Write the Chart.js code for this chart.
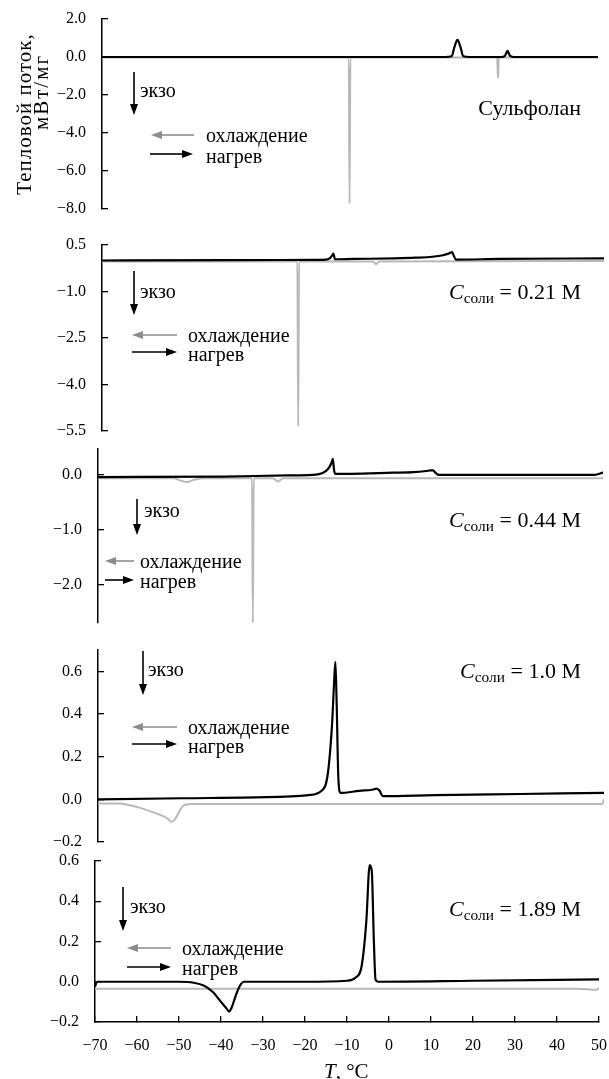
<!DOCTYPE html>
<html>
<head>
<meta charset="utf-8">
<script src="https://cdn.jsdelivr.net/npm/chart.js@4.4.0/dist/chart.umd.min.js"></script>
<style>
body { margin: 0; background: #fff; }
#fig { position: relative; width: 609px; height: 1079px; overflow: hidden; font-family: "Liberation Serif", "Times New Roman", serif; color: #000; }
#fig canvas { position: absolute; left: 0; }
.t { position: absolute; white-space: nowrap; line-height: 1; transform: translateY(-50%); font-size: 20px; }
.r { text-align: right; }
.c sub { font-size: 70%; vertical-align: baseline; position: relative; top: 0.28em; }
.yt { position: absolute; white-space: nowrap; line-height: 1; font-size: 21px; transform: translate(-50%, -50%) rotate(-90deg); }
svg { position: absolute; left: 0; top: 0; }
</style>
</head>
<body>
<div id="fig">
  <svg id="arrows" width="609" height="1079"></svg>
</div>
<script>
// x axis (temperature, °C)
const xTicks = [-70, -60, -50, -40, -30, -20, -10, 0, 10, 20, 30, 40, 50];

// Сульфолан
const ticks1 = [2, 0, -2, -4, -6, -8];
const heatT1 = [-70, 13, 14.6, 15.3, 16.0, 16.7, 17.4, 19, 26.6, 27.5, 28.1, 28.7, 29.5, 50];
const heatY1 = [0, 0, 0.04, 0.55, 0.9, 0.55, 0.04, 0, 0, 0.06, 0.32, 0.06, 0, 0];
const coolT1 = [-70, -10.3, -10.1, -9.9, 25.6, 25.8, 26.0, 50];
const coolY1 = [-0.03, -0.03, -7.7, -0.03, -0.03, -1.1, -0.03, -0.03];

// C = 0.21 M
const ticks2 = [0.5, -1, -2.5, -4, -5.5];
const heatT2 = [-70, -40, -20, -16.5, -15.5, -15.0, -14.7, -14.3, -10, 0, 5, 9, 11.5, 13.0, 13.7, 14.1, 14.6, 25, 50];
const heatY2 = [0.0, 0.01, 0.02, 0.03, 0.08, 0.16, 0.22, 0.04, 0.05, 0.07, 0.09, 0.12, 0.17, 0.23, 0.27, 0.15, 0.03, 0.05, 0.07];
const coolT2 = [-70, -23.3, -23.1, -22.9, -5.2, -4.5, -3.8, 50];
const coolY2 = [-0.03, -0.03, -5.35, -0.03, -0.03, -0.12, -0.03, -0.02];

// C = 0.44 M
const ticks3 = [0, -1, -2];
const heatT3 = [-70, -40, -25, -19, -16.5, -15.2, -14.5, -14.2, -13.9, -13.5, -10, 0, 5, 8, 9, 9.6, 10.3, 11, 30, 48, 50];
const heatY3 = [-0.04, -0.03, -0.01, 0.0, 0.04, 0.12, 0.22, 0.29, 0.08, 0.02, 0.02, 0.04, 0.05, 0.07, 0.08, 0.08, 0.03, 0.0, 0.0, 0.0, 0.04];
const coolT3 = [-70, -52, -50.5, -48.9, -47.2, -45, -33.4, -33.2, -33.0, -28.5, -27.2, -26.0, 50];
const coolY3 = [-0.06, -0.06, -0.10, -0.13, -0.09, -0.06, -0.06, -2.69, -0.06, -0.06, -0.12, -0.06, -0.06];

// C = 1.0 M
const ticks4 = [0.6, 0.4, 0.2, 0, -0.2];
const heatT4 = [-70, -50, -30, -20, -17, -15.5, -14.5, -14.0, -13.7, -13.4, -13.0, -12.5, -8, -5, -3.9, -3.2, -2.5, 10, 30, 50];
const heatY4 = [0.0, 0.005, 0.01, 0.02, 0.04, 0.12, 0.35, 0.55, 0.645, 0.45, 0.1, 0.03, 0.04, 0.045, 0.05, 0.04, 0.015, 0.02, 0.025, 0.03];
const coolT4 = [-70, -65, -63, -60, -57, -55, -53.5, -52.7, -51.8, -50.8, -49.8, -48, 49.6, 50];
const coolY4 = [-0.02, -0.02, -0.025, -0.04, -0.06, -0.075, -0.09, -0.105, -0.095, -0.06, -0.03, -0.022, -0.022, 0.0];

// C = 1.89 M
const ticks5 = [0.6, 0.4, 0.2, 0, -0.2];
const heatT5 = [-70, -69.5, -60, -50, -46.5, -44, -42, -40, -38.6, -38.1, -37.5, -36.5, -35.5, -34.5, -20, -10, -8, -6.5, -5.4, -4.6, -4.1, -3.6, -3.2, -2.5, 20, 50];
const heatY5 = [-0.025, 0.0, 0.0, 0.0, -0.005, -0.02, -0.05, -0.1, -0.135, -0.148, -0.13, -0.07, -0.02, 0.0, 0.0, 0.005, 0.02, 0.08, 0.3, 0.58, 0.55, 0.2, 0.01, 0.0, 0.005, 0.012];
const coolT5 = [-70, -50, 0, 45, 49.5, 50];
const coolY5 = [-0.035, -0.035, -0.035, -0.035, -0.04, -0.03];

const fig = document.getElementById("fig");
const FONT = "'Liberation Serif', 'Times New Roman', serif";
const fmtY = v => (v < 0 ? "\u2212" : "") + Math.abs(v).toFixed(1);
const fmtX = v => (v < 0 ? "\u2212" : "") + Math.abs(v);
const toXY = (xs, ys) => xs.map((x, i) => ({ x: x, y: ys[i] }));

// pixel frame of every panel (axis line position, top/bottom of the y axis)
const panels = [
    { top: 19, bottom: 209, left: 102, right: 598, min: -8, max: 2, ticks: ticks1, heat: [heatT1, heatY1], cool: [coolT1, coolY1] },
    { top: 245, bottom: 431, left: 102, right: 604, min: -5.5, max: 0.5, ticks: ticks2, heat: [heatT2, heatY2], cool: [coolT2, coolY2] },
    { top: 449, bottom: 623, left: 98, right: 603, min: -2.69, max: 0.47, ticks: ticks3, heat: [heatT3, heatY3], cool: [coolT3, coolY3] },
    { top: 650, bottom: 842, left: 98, right: 604, min: -0.2, max: 0.7, ticks: ticks4, heat: [heatT4, heatY4], cool: [coolT4, coolY4] },
    { top: 861, bottom: 1022, left: 95, right: 599, min: -0.2, max: 0.6, ticks: ticks5, heat: [heatT5, heatY5], cool: [coolT5, coolY5] }
];

panels.forEach((p, i) => {
    const last = i === panels.length - 1;
    const pad = 36;       // room for the tick label padding Chart.js reserves
    const padR = 36;
    const xAxisH = 40;
    const canvas = document.createElement("canvas");
    canvas.width = p.right + padR;
    canvas.height = (p.bottom - p.top) + pad + (last ? xAxisH : pad);
    canvas.style.top = (p.top - pad) + "px";
    fig.insertBefore(canvas, fig.firstChild);

    new Chart(canvas, {
        type: "line",
        data: {
            datasets: [
                { data: toXY(p.heat[0], p.heat[1]), borderColor: "#000", borderWidth: 2.2, pointRadius: 0, cubicInterpolationMode: "monotone" },
                { data: toXY(p.cool[0], p.cool[1]), borderColor: "#b8b8b8", borderWidth: 2, pointRadius: 0, cubicInterpolationMode: "monotone" }
            ]
        },
        options: {
            responsive: false,
            animation: false,
            layout: { padding: { top: pad, bottom: last ? 0 : pad, left: 0, right: padR } },
            plugins: { legend: { display: false }, tooltip: { enabled: false } },
            scales: {
                x: {
                    type: "linear", min: -70, max: 50, display: last,
                    afterBuildTicks: s => { s.ticks = xTicks.map(v => ({ value: v })); },
                    afterFit: s => { if (last) s.height = xAxisH; },
                    ticks: { font: { family: FONT, size: 16 }, color: "#000", padding: 20, maxRotation: 0, callback: fmtX },
                    grid: { drawOnChartArea: false, tickLength: -6, color: "#000", lineWidth: 1.3 },
                    border: { color: "#000", width: 1.5 }
                },
                y: {
                    type: "linear", min: p.min, max: p.max,
                    afterBuildTicks: s => { s.ticks = p.ticks.map(v => ({ value: v })); },
                    afterFit: s => { s.width = p.left; },
                    ticks: { font: { family: FONT, size: 16 }, color: "#000", padding: 22, callback: fmtY },
                    grid: { drawOnChartArea: false, tickLength: -6, color: "#000", lineWidth: 1.3 },
                    border: { color: "#000", width: 1.5 }
                }
            }
        }
    });
});

// labels inside the panels
const texts = [
    { x: 140, y: 90, html: "экзо" },
    { x: 206, y: 135, html: "охлаждение" },
    { x: 206, y: 156, html: "нагрев" },
    { right: 28, y: 108, html: "Сульфолан", size: 22 },

    { x: 140, y: 291, html: "экзо" },
    { x: 188, y: 335, html: "охлаждение" },
    { x: 188, y: 354, html: "нагрев" },
    { right: 28, y: 292, html: "<i>C</i><sub>соли</sub> = 0.21 M", size: 22 },

    { x: 144, y: 510, html: "экзо" },
    { x: 140, y: 561, html: "охлаждение" },
    { x: 140, y: 581, html: "нагрев" },
    { right: 28, y: 520, html: "<i>C</i><sub>соли</sub> = 0.44 M", size: 22 },

    { x: 148, y: 669, html: "экзо" },
    { x: 188, y: 727, html: "охлаждение" },
    { x: 188, y: 746, html: "нагрев" },
    { right: 28, y: 671, html: "<i>C</i><sub>соли</sub> = 1.0 M", size: 22 },

    { x: 130, y: 906, html: "экзо" },
    { x: 182, y: 948, html: "охлаждение" },
    { x: 182, y: 968, html: "нагрев" },
    { right: 28, y: 909, html: "<i>C</i><sub>соли</sub> = 1.89 M", size: 22 },

    { x: 324, y: 1071, html: "<i>T</i>, °C", size: 21 }
];
texts.forEach(t => {
    const d = document.createElement("div");
    d.className = "t c" + (t.right !== undefined ? " r" : "");
    d.innerHTML = t.html;
    d.style.top = t.y + "px";
    if (t.right !== undefined) d.style.right = t.right + "px"; else d.style.left = t.x + "px";
    if (t.size) d.style.fontSize = t.size + "px";
    fig.appendChild(d);
});

// y axis title
[["Тепловой поток,", 24, 114, 1], ["мВт/мг", 41, 92, 2]].forEach(([s, x, y, ls]) => {
    const d = document.createElement("div");
    d.className = "yt";
    d.textContent = s;
    d.style.left = x + "px";
    d.style.top = y + "px";
    d.style.letterSpacing = ls + "px";
    fig.appendChild(d);
});

// arrows: exo markers and cooling / heating keys
const arrows = [
    [134, 72, 134, 115, "#000"], [194, 135, 151, 135, "#8c8c8c"], [150, 154, 193, 154, "#000"],
    [134, 271, 134, 315, "#000"], [177, 335, 132, 335, "#8c8c8c"], [132, 352, 177, 352, "#000"],
    [137, 499, 137, 535, "#000"], [134, 561, 105, 561, "#8c8c8c"], [105, 580, 134, 580, "#000"],
    [143, 651, 143, 695, "#000"], [177, 727, 132, 727, "#8c8c8c"], [132, 744, 177, 744, "#000"],
    [123, 887, 123, 931, "#000"], [171, 948, 127, 948, "#8c8c8c"], [127, 967, 171, 967, "#000"]
];
const svg = document.getElementById("arrows");
const NS = "http://www.w3.org/2000/svg";
arrows.forEach(([x1, y1, x2, y2, col]) => {
    const len = Math.hypot(x2 - x1, y2 - y1);
    const ux = (x2 - x1) / len, uy = (y2 - y1) / len;
    const hl = 11, hw = 4;
    const bx = x2 - ux * hl, by = y2 - uy * hl;
    const line = document.createElementNS(NS, "line");
    line.setAttribute("x1", x1); line.setAttribute("y1", y1);
    line.setAttribute("x2", bx); line.setAttribute("y2", by);
    line.setAttribute("stroke", col); line.setAttribute("stroke-width", 1.6);
    svg.appendChild(line);
    const head = document.createElementNS(NS, "polygon");
    head.setAttribute("points", `${x2},${y2} ${bx - uy * hw},${by + ux * hw} ${bx + uy * hw},${by - ux * hw}`);
    head.setAttribute("fill", col);
    svg.appendChild(head);
});
</script>
</body>
</html>
